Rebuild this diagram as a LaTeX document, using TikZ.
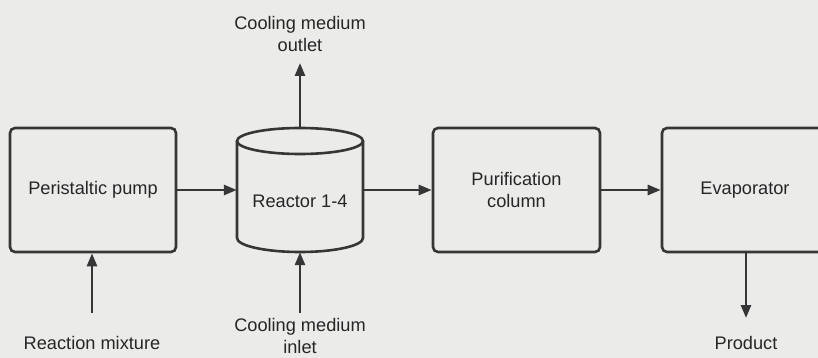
\documentclass[tikz,border=0pt]{standalone}
\usepackage{fontspec}
\setmainfont{Liberation Sans}
\usetikzlibrary{arrows.meta}
\definecolor{ink}{HTML}{363636}
\definecolor{paper}{HTML}{EBEBEA}
\tikzset{
  box/.style={draw=ink, line width=2.6pt, rounded corners=5pt, minimum width=#1, minimum height=124pt, inner sep=0pt, align=center},
  flow/.style={draw=ink, line width=2.6pt, -{Triangle[length=13pt,width=10pt]}},
  lbl/.style={text=black!85, align=center, inner sep=0pt, font=\fontsize{18.2}{22.5}\selectfont},
}
\begin{document}
\begin{tikzpicture}[x=1pt,y=1pt, font=\fontsize{18.2}{22.5}\selectfont, text=black!85]
\clip (0,0) rectangle (818,-358);
\fill[paper] (0,0) rectangle (818,-358);
% boxes
\node[box=166pt] (pump) at (93,-190) {Peristaltic pump};
\node[box=167pt] (purif) at (516.5,-190) {Purification\\column};
\node[box=168pt] (evap) at (746,-190) {};
\node[lbl] (evaplabel) at (745,-190) {Evaporator};
% reactor
\node[minimum width=126pt, minimum height=124pt, inner sep=0pt] (reactor) at (300,-190) {};
\draw[ink, line width=2.6pt] (237,-141) -- (237,-238) arc[start angle=180, end angle=360, x radius=63pt, y radius=14pt] -- (363,-141);
\draw[ink, line width=2.6pt] (300,-141) ellipse[x radius=63pt, y radius=13pt];
\node[lbl] (reactorlabel) at (300,-201) {Reactor 1-4};
% labels
\node[lbl] (outlet) at (300,-34) {Cooling medium\\outlet};
\node[lbl] (inlet) at (300,-336) {Cooling medium\\inlet};
\node[lbl] (mixture) at (92,-343) {Reaction mixture};
\node[lbl] (product) at (746,-343) {Product};
\coordinate (outtip) at (300,-63);
\coordinate (inbase) at (300,-313);
\coordinate (mixbase) at (92,-313);
\coordinate (prodtip) at (746,-318);
% connectors
\draw[flow] (pump.east) -- (reactor.west);
\draw[flow] (reactor.east) -- (purif.west);
\draw[flow] (purif.east) -- (evap.west);
\draw[flow] (reactor.north) -- (outtip);
\draw[flow] (inbase) -- (reactor.south);
\draw[flow] (mixbase) -- (mixbase |- pump.south);
\draw[flow] (evap.south) -- (prodtip);
\end{tikzpicture}
\end{document}
